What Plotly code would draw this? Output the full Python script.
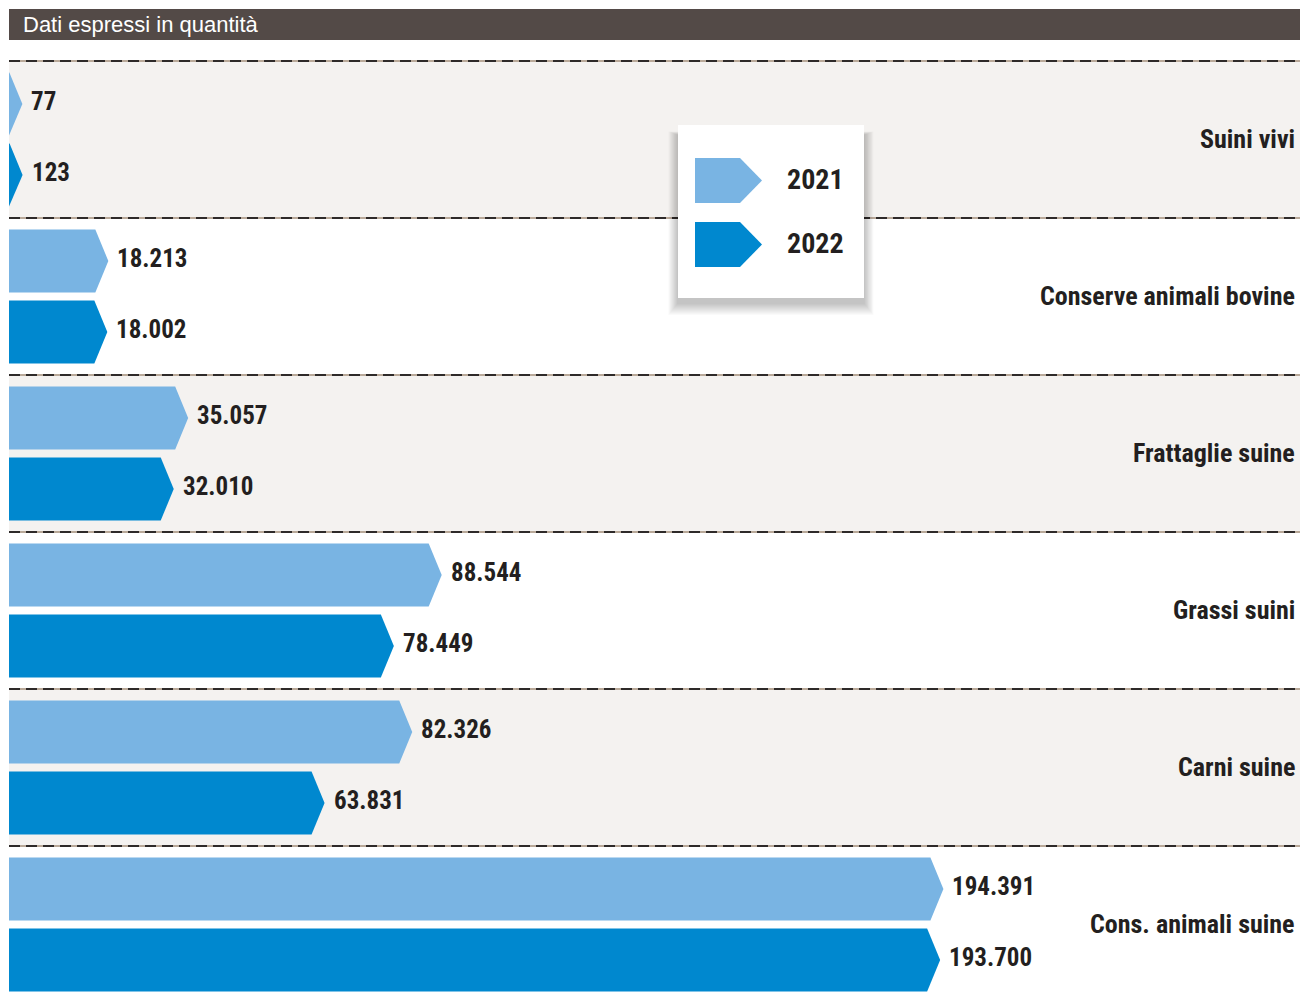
import plotly.graph_objects as go

W, H = 1300, 994

categories = ["Suini vivi", "Conserve animali bovine", "Frattaglie suine",
              "Grassi suini", "Carni suine", "Cons. animali suine"]
series_names = ["2021", "2022"]
values_2021 = [77, 18213, 35057, 88544, 82326, 194391]
values_2022 = [123, 18002, 32010, 78449, 63831, 193700]
header_text = "Dati espressi in quantità"

LIGHT = "#79b4e3"
DARK = "#0088cf"
GRAY_ROW = "#f4f2f0"
TEXT = "#231f20"
FONT = "Roboto Condensed, Liberation Sans Narrow, Roboto, sans-serif"

# pixel geometry
PX_PER_UNIT = 0.00474
X0_PX = 9
ROW_TOP_PX = 61
ROW_H_PX = 157
x_range = [-X0_PX / PX_PER_UNIT, (W - X0_PX) / PX_PER_UNIT]
y_range = [(H - ROW_TOP_PX) / ROW_H_PX, -ROW_TOP_PX / ROW_H_PX]
TIP = 13 / PX_PER_UNIT
BAR_H = 63 / ROW_H_PX
OFFSETS = [11.5 / ROW_H_PX, 82.5 / ROW_H_PX]


def fmt(v):
    return f"{v:,}".replace(",", ".")


def px2py(p):
    return 1 - p / H


def px2px(p):
    return p / W


fig = go.Figure()
shapes = []
annotations = []

# row backgrounds and dashed separators
for r in range(len(categories)):
    if r % 2 == 0:
        shapes.append(dict(type="rect", xref="paper", yref="y", x0=px2px(9), x1=1,
                           y0=r, y1=r + 1, fillcolor=GRAY_ROW, line_width=0, layer="below"))
for r in range(len(categories)):
    shapes.append(dict(type="line", xref="paper", yref="y", x0=px2px(9), x1=1, y0=r, y1=r,
                       line=dict(color="#b9a999", width=2), layer="below"))
    shapes.append(dict(type="line", xref="paper", yref="y", x0=px2px(9), x1=1, y0=r, y1=r,
                       line=dict(color="#2e2a29", width=2, dash="11px,6px"), layer="below"))

# bars as arrow polygons
for s, (vals, color) in enumerate([(values_2021, LIGHT), (values_2022, DARK)]):
    for r, v in enumerate(vals):
        top = r + OFFSETS[s]
        bot = top + BAR_H
        mid = (top + bot) / 2
        fig.add_trace(go.Scatter(
            x=[0, v, v + TIP, v, 0, 0],
            y=[top, top, mid, bot, bot, top],
            mode="lines", fill="toself", fillcolor=color,
            line=dict(width=0, color=color), hoverinfo="skip",
            name=series_names[s], showlegend=False))
        annotations.append(dict(x=v + TIP, y=mid, xref="x", yref="y", text=fmt(v),
                                showarrow=False, xanchor="left", yanchor="middle", xshift=7,
                                yshift=3,
                                font=dict(family=FONT, size=25, color=TEXT, weight="bold")))

for r, c in enumerate(categories):
    annotations.append(dict(x=px2px(1297), y=r + 0.5, xref="paper", yref="y", text=c,
                            showarrow=False, xanchor="right", yanchor="middle", yshift=1,
                            font=dict(family=FONT, size=26, color=TEXT, weight="bold")))

# header
shapes.append(dict(type="rect", xref="paper", yref="paper", x0=px2px(9), x1=1,
                   y0=px2py(40), y1=px2py(9), fillcolor="#534a47", line_width=0))
annotations.append(dict(x=px2px(21), y=px2py(24), xref="paper", yref="paper", text=header_text,
                        showarrow=False, xanchor="left", yanchor="middle",
                        font=dict(family="Liberation Sans, Arial, sans-serif", size=22, color="white")))

# legend box with soft shadow
lx0, lx1, ly0, ly1 = 678, 864, 125, 298
for i in range(12, 0, -1):
    shapes.append(dict(type="rect", xref="paper", yref="paper",
                       x0=px2px(lx0 - i * 0.8), x1=px2px(lx1 + i * 0.8),
                       y0=px2py(ly1 + 5 + i * 1.0), y1=px2py(ly0 + 10 - i * 0.3),
                       fillcolor="rgba(0,0,0,0.02)", line_width=0))
shapes.append(dict(type="rect", xref="paper", yref="paper", x0=px2px(lx0), x1=px2px(lx1),
                   y0=px2py(ly1), y1=px2py(ly0), fillcolor="white", line_width=0))
for i, (name, color) in enumerate(zip(series_names, [LIGHT, DARK])):
    t = 158 + i * 64
    b = t + 45
    m = (t + b) / 2
    path = (f"M {px2px(695)},{px2py(t)} L {px2px(740)},{px2py(t)} L {px2px(762)},{px2py(m)} "
            f"L {px2px(740)},{px2py(b)} L {px2px(695)},{px2py(b)} Z")
    shapes.append(dict(type="path", xref="paper", yref="paper", path=path,
                       fillcolor=color, line_width=0))
    annotations.append(dict(x=px2px(785), y=px2py(m - 1), xref="paper", yref="paper", text=name,
                            showarrow=False, xanchor="left", yanchor="middle",
                            font=dict(family=FONT, size=28, color=TEXT, weight="bold")))

fig.update_layout(
    width=W, height=H,
    margin=dict(l=0, r=0, t=0, b=0),
    paper_bgcolor="white", plot_bgcolor="white",
    xaxis=dict(range=x_range, visible=False, fixedrange=True),
    yaxis=dict(range=y_range, visible=False, fixedrange=True),
    shapes=shapes, annotations=annotations, showlegend=False,
)

fig.write_html("out.html", config={"displayModeBar": False},
               post_script="document.body.style.margin='0';document.body.style.overflow='hidden';")
